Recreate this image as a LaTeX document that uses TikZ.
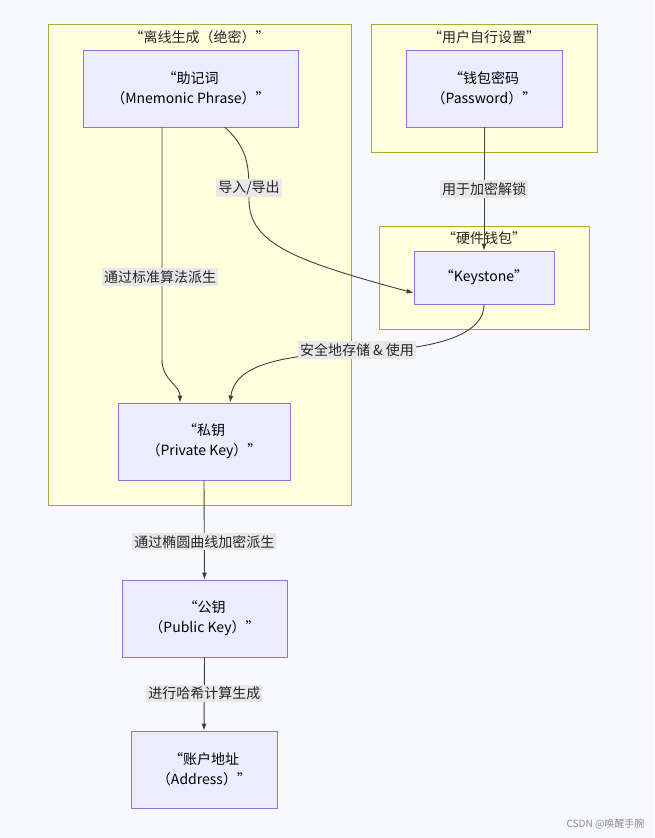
\documentclass[tikz,border=0pt]{standalone}
\usepackage{fontspec}
\setmainfont{Noto Sans CJK SC}
\usetikzlibrary{arrows.meta}

\begin{document}
\begin{tikzpicture}[x=1pt, y=-1pt, >={Latex[length=7pt,width=5pt]},
  cluster/.style={draw=yyborder, fill=yyfill, line width=0.8pt},
  box/.style={draw=nodeborder, fill=nodefill, line width=0.8pt, align=center,
    font=\fontsize{14}{20}\selectfont},
  ctitle/.style={font=\fontsize{14}{16}\selectfont, text=black!85},
  edgelabel/.style={fill=labelbg, inner sep=2pt, font=\fontsize{14}{16}\selectfont, text=black!85},
  link/.style={draw=black!75, line width=0.9pt, ->}]
\definecolor{bg}{HTML}{F8F9FC}
\definecolor{yyfill}{HTML}{FFFFDE}
\definecolor{yyborder}{HTML}{AAAA33}
\definecolor{nodefill}{HTML}{ECECFF}
\definecolor{nodeborder}{HTML}{9370DB}
\definecolor{labelbg}{HTML}{E8E8E8}
\fill[bg] (0,0) rectangle (654,838);
\useasboundingbox (0,0) rectangle (654,838);
% clusters
\draw[cluster] (48,24) rectangle (351,505);
\draw[cluster] (371,24) rectangle (597,152);
\draw[cluster] (379,226) rectangle (589,329);
\node[ctitle] (t1) at (199.5,37) {“离线生成（绝密）”};
\node[ctitle] (t2) at (484,37) {“用户自行设置”};
\node[ctitle] (t3) at (484,238) {“硬件钱包”};
% nodes
\node[box, minimum width=215pt, minimum height=77pt] (mnemonic) at (190.5,88.5) {“助记词\\（Mnemonic Phrase）”};
\node[box, minimum width=156pt, minimum height=77pt] (password) at (484,88.5) {“钱包密码\\（Password）”};
\node[box, minimum width=140pt, minimum height=53pt] (keystone) at (484,277.5) {“Keystone”};
\node[box, minimum width=172pt, minimum height=77pt] (private) at (204,441.5) {“私钥\\（Private Key）”};
\node[box, minimum width=165pt, minimum height=77pt] (public) at (204.5,618.5) {“公钥\\（Public Key）”};
\node[box, minimum width=146pt, minimum height=77pt] (address) at (204,769.5) {“账户地址\\（Address）”};
% edges
\draw[link] ([xshift=-28.5pt]mnemonic.south) -- (162,360) .. controls (162,380) and (180,385) .. ([xshift=-24pt]private.north);
\node[edgelabel] (lbl0) at (160,277) {通过标准算法派生};
\draw[link] ([xshift=34.5pt]mnemonic.south) .. controls (250,150) and (249,170) .. (249,200)
  .. controls (249,245) and (300,262) .. ([yshift=-15.5pt]keystone.west);
\node[edgelabel] (lbl1) at (249,188) {导入/导出};
\draw[link] (password.south) -- (keystone.north) node[pos=0.5, edgelabel] {用于加密解锁};
\draw[link] (keystone.south) .. controls (484,340) and (420,350) .. (357,352)
  .. controls (280,355) and (235,365) .. ([xshift=26pt]private.north);
\node[edgelabel] (lbl2) at (357,350) {安全地存储 \& 使用};
\draw[link] (private.south) -- (public.north) node[pos=0.62, edgelabel] {通过椭圆曲线加密派生};
\draw[link] (public.south) -- (address.north) node[pos=0.49, edgelabel] {进行哈希计算生成};
% watermark
\node[anchor=east, font=\fontsize{10}{12}\selectfont, text=black!45] (wm) at (648,824) {CSDN @唤醒手腕};
\end{tikzpicture}
\end{document}
